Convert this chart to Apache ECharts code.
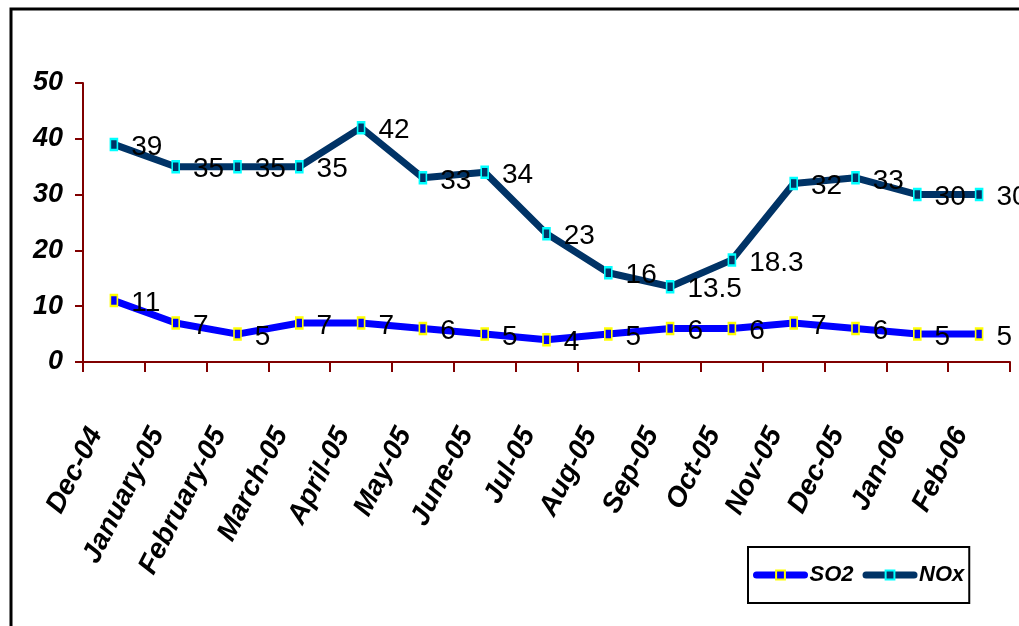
<!DOCTYPE html>
<html>
<head>
<meta charset="utf-8">
<script src="https://cdn.jsdelivr.net/npm/echarts@6/dist/echarts.min.js"></script>
<style>
html,body{margin:0;padding:0;background:#fff;}
#chart{width:1019px;height:626px;}
</style>
</head>
<body>
<div id="chart"></div>
<script>
const categories = ['Dec-04','January-05','February-05','March-05','April-05','May-05','June-05','Jul-05','Aug-05','Sep-05','Oct-05','Nov-05','Dec-05','Jan-06','Feb-06'];
const so2 = [11,7,5,7,7,6,5,4,5,6,6,7,6,5,5];
const nox = [39,35,35,35,42,33,34,23,16,13.5,18.3,32,33,30,30];
const yTicks = [0,10,20,30,40,50];

const arial = "'Liberation Sans',Arial,sans-serif";
const axisRed = '#800000';

const chart = echarts.init(document.getElementById('chart'));
function labelStyle(){
  return {show:true, position:'right', distance:13, offset:[0,3], color:'#000', fontFamily:arial, fontSize:28};
}
chart.setOption({
  animation:false,
  graphic:[{type:'rect', shape:{x:11,y:9,width:1100,height:700}, style:{fill:'none', stroke:'#000', lineWidth:3}}],
  grid:{left:83, right:9, top:83, bottom:264, containLabel:false},
  xAxis:{
    type:'category', data:categories, boundaryGap:true,
    axisLine:{lineStyle:{color:axisRed, width:2}},
    axisTick:{show:true, length:10, lineStyle:{color:axisRed, width:2}},
    axisLabel:{rotate:63, margin:32, padding:[0,40,0,0], color:'#000', fontFamily:arial, fontWeight:'bold', fontStyle:'italic', fontSize:28, interval:0}
  },
  yAxis:{
    type:'value', min:yTicks[0], max:yTicks[yTicks.length-1], interval:10,
    axisLine:{show:true, lineStyle:{color:axisRed, width:2}},
    axisTick:{show:true, inside:false, length:8, lineStyle:{color:axisRed, width:2}},
    splitLine:{show:false},
    axisLabel:{margin:20, color:'#000', fontFamily:arial, fontWeight:'bold', fontStyle:'italic', fontSize:27}
  },
  legend:{
    orient:'horizontal', left:748, top:547,
    borderColor:'#000', borderWidth:2, padding:[17,5,17,5],
    itemWidth:48, itemHeight:11, itemGap:9,
    lineStyle:{width:7, cap:'round'},
    textStyle:{color:'#000', fontFamily:arial, fontWeight:'bold', fontStyle:'italic', fontSize:22},
    data:['SO2','NOx']
  },
  series:[
    {name:'SO2', type:'line', data:so2, symbol:'rect', symbolSize:[7,11],
     lineStyle:{color:'#0000ff', width:7},
     itemStyle:{color:'#0000ff', borderColor:'#ffff00', borderWidth:2},
     label:labelStyle(), z:3},
    {name:'NOx', type:'line', data:nox, symbol:'rect', symbolSize:[7,11],
     lineStyle:{color:'#003366', width:7},
     itemStyle:{color:'#003366', borderColor:'#00ffff', borderWidth:2},
     label:labelStyle(), z:2}
  ]
});
</script>
</body>
</html>
